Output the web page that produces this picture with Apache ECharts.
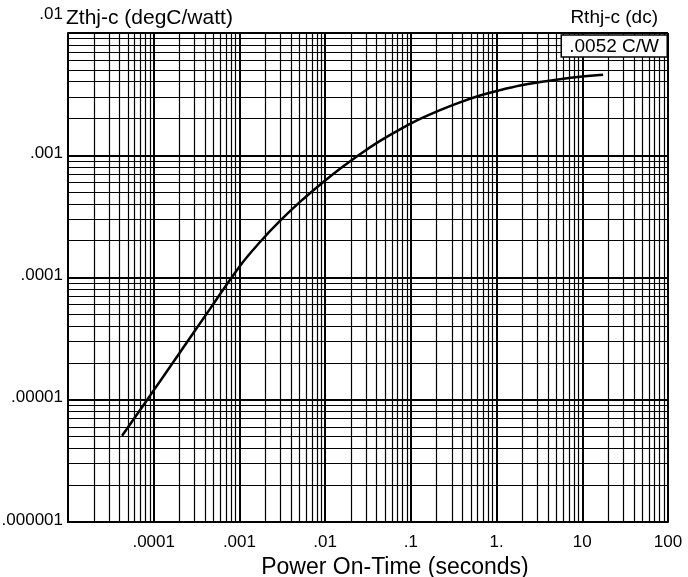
<!DOCTYPE html>
<html>
<head>
<meta charset="utf-8">
<script src="https://cdn.jsdelivr.net/npm/echarts@6/dist/echarts.min.js"></script>
<style>
html,body{margin:0;padding:0;background:#fff;}
#chart{width:688px;height:577px;}
</style>
</head>
<body>
<div id="chart"></div>
<script>
// Data
var timeValues = [4.27e-5, 9.06e-5, 2.03e-4, 4.54e-4, 1.02e-3, 1.74e-3, 2.97e-3, 5.09e-3, 8.71e-3, 1.49e-2, 2.55e-2, 4.37e-2, 7.47e-2, 0.128, 0.219, 0.374, 0.641, 1.10, 1.88, 3.21, 5.50, 9.40, 17.5];
var zthValues  = [5.07e-6, 1.08e-5, 2.45e-5, 5.54e-5, 1.25e-4, 1.95e-4, 2.90e-4, 4.15e-4, 5.74e-4, 7.75e-4, 1.02e-3, 1.31e-3, 1.63e-3, 1.98e-3, 2.34e-3, 2.71e-3, 3.08e-3, 3.41e-3, 3.72e-3, 3.97e-3, 4.19e-3, 4.38e-3, 4.55e-3];

var xDecades = [1e-5, 1e-4, 1e-3, 1e-2, 1e-1, 1, 10, 100];
var xTickLabels = ['', '.0001', '.001', '.01', '.1', '1.', '10', '100'];
var yDecades = [1e-6, 1e-5, 1e-4, 1e-3, 1e-2];
var yTickLabels = ['.000001', '.00001', '.0001', '.001', '.01'];
var minorMultipliers = [2, 3, 4, 5, 6, 7, 8, 9];

var FONT = '"Liberation Sans", Arial, Helvetica, sans-serif';

function decadeIndex(v, decades) {
  var e = Math.round(Math.log10(v));
  for (var i = 0; i < decades.length; i++) {
    if (Math.round(Math.log10(decades[i])) === e) return i;
  }
  return -1;
}

var xMin = xDecades[0], xMax = xDecades[xDecades.length - 1];
var yMin = yDecades[0], yMax = yDecades[yDecades.length - 1];

var gridSegments = [];
for (var i = 0; i < xDecades.length - 1; i++) {
  for (var j = 0; j < minorMultipliers.length; j++) {
    var xv = xDecades[i] * minorMultipliers[j];
    gridSegments.push({ coords: [[xv, yMin], [xv, yMax]] });
  }
}
for (var i = 0; i < yDecades.length - 1; i++) {
  for (var j = 0; j < minorMultipliers.length; j++) {
    var yv = yDecades[i] * minorMultipliers[j];
    gridSegments.push({ coords: [[xMin, yv], [xMax, yv]] });
  }
}

var curve = timeValues.map(function (t, i) { return [t, zthValues[i]]; });

var chart = echarts.init(document.getElementById('chart'), null, { renderer: 'canvas' });
chart.setOption({
  backgroundColor: '#fff',
  animation: false,
  textStyle: { fontFamily: FONT, color: '#000' },
  grid: { left: 68, right: 20, top: 33, bottom: 55, containLabel: false, outerBoundsMode: 'none' },
  title: [
    { text: 'Zthj-c (degC/watt)', left: 66, top: 8, padding: 0,
      textStyle: { fontFamily: FONT, fontSize: 21, fontWeight: 'normal', color: '#000' } },
    { text: 'Rthj-c (dc)', right: 30, top: 8, padding: 0,
      textStyle: { fontFamily: FONT, fontSize: 19, fontWeight: 'normal', color: '#000' } },
    { text: '.0052 C/W', right: 21, top: 35, padding: [2, 8, 1, 8],
      backgroundColor: '#fff', borderColor: '#000', borderWidth: 1.5,
      textStyle: { fontFamily: FONT, fontSize: 19, fontWeight: 'normal', color: '#000' } }
  ],
  xAxis: {
    type: 'log', logBase: 10, min: xMin, max: xMax, interval: 1,
    name: 'Power On-Time (seconds)', nameLocation: 'middle', nameGap: 33,
    nameTextStyle: { fontFamily: FONT, fontSize: 23, color: '#000', padding: [0, 0, 0, 54] },
    axisLine: { show: true, lineStyle: { color: '#000', width: 2 } },
    axisTick: { show: false },
    axisLabel: { fontFamily: FONT, fontSize: 17, color: '#000', margin: 12,
      formatter: function (v) { var k = decadeIndex(v, xDecades); return k < 0 ? '' : xTickLabels[k]; } },
    splitLine: { show: true, lineStyle: { color: '#000', width: 2 } }
  },
  yAxis: {
    type: 'log', logBase: 10, min: yMin, max: yMax, interval: 1,
    axisLine: { show: true, lineStyle: { color: '#000', width: 2 } },
    axisTick: { show: false },
    axisLabel: { fontFamily: FONT, fontSize: 17, color: '#000', margin: 5,
      padding: [0, 0, 4, 0],
      formatter: function (v) {
        var k = decadeIndex(v, yDecades);
        if (k < 0) return '';
        if (k === yDecades.length - 1) return '{top|' + yTickLabels[k] + '}';
        return yTickLabels[k];
      },
      rich: { top: { fontFamily: FONT, fontSize: 17, color: '#000', padding: [0, 0, 34, 0] } }
    },
    splitLine: { show: true, lineStyle: { color: '#000', width: 2 } }
  },
  series: [
    {
      type: 'lines', coordinateSystem: 'cartesian2d', silent: true, z: 1,
      lineStyle: { color: '#000', width: 1.2, opacity: 1 },
      data: gridSegments
    },
    {
      type: 'line', data: curve, smooth: 0.4, symbol: 'none', z: 5,
      lineStyle: { color: '#000', width: 2.5 }
    }
  ]
});
</script>
</body>
</html>
